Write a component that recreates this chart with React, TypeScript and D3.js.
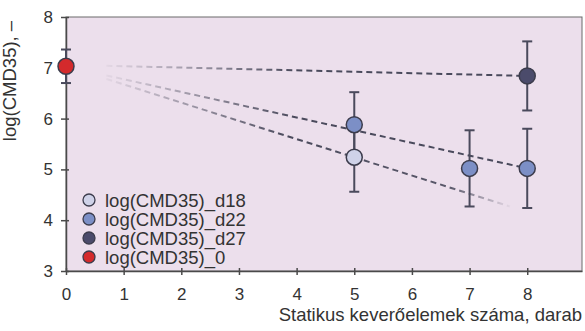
import React, { useEffect, useRef } from "react";
import * as d3 from "d3";

const width = 585;
const height = 331;

// axis values
const xTicks = [0, 1, 2, 3, 4, 5, 6, 7, 8];
const yTicks = [3, 4, 5, 6, 7, 8];
const xDomain = [0, 8.95];
const yDomain = [3, 8];

const xTitle = "Statikus keverőelemek száma, darab";
const yTitle = "log(CMD35), –";

// series (x = mixer count, y = log value, err = half error bar)
const seriesNames = ["log(CMD35)_d18", "log(CMD35)_d22", "log(CMD35)_d27", "log(CMD35)_0"];
const seriesColors = ["#cfd2e8", "#7c8fc6", "#4b4b6b", "#d42a2c"];
const d18Points = [{ x: 5, y: 5.24, err: 0.68 }];
const d22Points = [
  { x: 5, y: 5.88, err: 0.64 },
  { x: 7, y: 5.02, err: 0.75 },
  { x: 8, y: 5.02, err: 0.78 },
];
const d27Points = [{ x: 8, y: 6.84, err: 0.68 }];
const zeroPoints = [{ x: 0, y: 7.03, err: 0.33 }];

// dashed trend lines: start and end
const d18Trend = [{ x: 0.7, y: 6.78 }, { x: 7.7, y: 4.27 }];
const d22Trend = [{ x: 0.7, y: 6.85 }, { x: 8, y: 5.02 }];
const d27Trend = [{ x: 0.7, y: 7.04 }, { x: 8, y: 6.84 }];

const margin = { top: 17, right: 3, bottom: 60, left: 66 };

function App() {
  const ref = useRef<SVGSVGElement | null>(null);

  useEffect(() => {
    const svg = d3.select(ref.current);
    svg.selectAll("*").remove();

    const innerW = width - margin.left - margin.right;
    const innerH = height - margin.top - margin.bottom;

    const x = d3.scaleLinear().domain(xDomain).range([margin.left, margin.left + innerW]);
    const y = d3.scaleLinear().domain(yDomain).range([margin.top + innerH, margin.top]);

    const font = "Liberation Sans, Arial, sans-serif";
    const axisColor = "#4a4a4a";
    const markColor = "#4a4a5c";

    // plot background + frame
    svg.append("rect")
      .attr("x", x(xDomain[0]))
      .attr("y", y(yDomain[1]))
      .attr("width", x(xDomain[1]) - x(xDomain[0]))
      .attr("height", y(yDomain[0]) - y(yDomain[1]))
      .attr("fill", "#ecdfec")
      .attr("stroke", "#6a6a6a")
      .attr("stroke-width", 1);

    //////////////////// gradients for fading trend lines
    const defs = svg.append("defs");
    const trends = [
      { id: "g18", pts: d18Trend, fadeOut: true },
      { id: "g22", pts: d22Trend, fadeOut: false },
      { id: "g27", pts: d27Trend, fadeOut: false },
    ];
    trends.forEach((t) => {
      const g = defs.append("linearGradient")
        .attr("id", t.id)
        .attr("gradientUnits", "userSpaceOnUse")
        .attr("x1", x(t.pts[0].x)).attr("y1", 0)
        .attr("x2", x(t.pts[1].x)).attr("y2", 0);
      const stops = t.fadeOut
        ? [[0, 0.05], [0.45, 1], [0.85, 0.9], [1, 0.05]]
        : [[0, 0.05], [0.45, 1], [1, 1]];
      stops.forEach((s) => {
        g.append("stop").attr("offset", s[0]).attr("stop-color", markColor).attr("stop-opacity", s[1]);
      });
    });

    const line = d3.line<{ x: number; y: number }>().x((d) => x(d.x)).y((d) => y(d.y));
    trends.forEach((t) => {
      svg.append("path")
        .attr("d", line(t.pts))
        .attr("fill", "none")
        .attr("stroke", "url(#" + t.id + ")")
        .attr("stroke-width", 2)
        .attr("stroke-dasharray", "6,4");
    });

    //////////////////// axes
    const xAxis = svg.append("g")
      .attr("transform", "translate(0," + y(yDomain[0]) + ")")
      .call(d3.axisBottom(x).tickValues(xTicks).tickSize(4).tickSizeOuter(0).tickFormat(d3.format("d")));
    xAxis.select(".domain").attr("stroke", axisColor).attr("stroke-width", 1.5);
    xAxis.selectAll(".tick line").attr("stroke", axisColor).attr("stroke-width", 1.5).attr("y1", -3);
    xAxis.selectAll(".tick text")
      .attr("y", 17)
      .attr("dy", "0.71em")
      .style("font", "17px " + font)
      .attr("fill", "#333");

    const yAxis = svg.append("g")
      .attr("transform", "translate(" + x(xDomain[0]) + ",0)")
      .call(d3.axisLeft(y).tickValues(yTicks).tickSize(5).tickSizeOuter(0).tickFormat(d3.format("d")));
    yAxis.select(".domain").attr("stroke", axisColor).attr("stroke-width", 1.5);
    yAxis.selectAll(".tick line").attr("stroke", axisColor).attr("stroke-width", 1.5).attr("x1", 3);
    yAxis.selectAll(".tick text")
      .attr("x", -13)
      .style("font", "17px " + font)
      .attr("fill", "#333");

    svg.append("text")
      .attr("text-anchor", "end")
      .attr("x", width - 3)
      .attr("y", 321)
      .style("font", "18.5px " + font)
      .attr("fill", "#333")
      .text(xTitle);

    svg.append("text")
      .attr("text-anchor", "middle")
      .attr("transform", "translate(16,81) rotate(-90)")
      .style("font", "18.5px " + font)
      .attr("fill", "#333")
      .text(yTitle);

    //////////////////// error bars + points
    const allSeries = [d18Points, d22Points, d27Points, zeroPoints];
    allSeries.forEach((pts) => {
      pts.forEach((p) => {
        const g = svg.append("g").attr("stroke", markColor).attr("stroke-width", 2);
        g.append("line").attr("x1", x(p.x)).attr("x2", x(p.x)).attr("y1", y(p.y - p.err)).attr("y2", y(p.y + p.err));
        [p.y - p.err, p.y + p.err].forEach((v) => {
          g.append("line").attr("x1", x(p.x) - 5).attr("x2", x(p.x) + 5).attr("y1", y(v)).attr("y2", y(v));
        });
      });
    });
    allSeries.forEach((pts, i) => {
      svg.selectAll(".pt" + i)
        .data(pts)
        .enter()
        .append("circle")
        .attr("cx", (d) => x(d.x))
        .attr("cy", (d) => y(d.y))
        .attr("r", 8)
        .attr("fill", seriesColors[i])
        .attr("stroke", "#3c3c4c")
        .attr("stroke-width", 1.5);
    });

    //////////////////// legend
    const legend = svg.append("g").attr("transform", "translate(89,200)");
    seriesNames.forEach((name, i) => {
      const row = legend.append("g").attr("transform", "translate(0," + i * 19 + ")");
      row.append("circle")
        .attr("r", 6)
        .attr("fill", seriesColors[i])
        .attr("stroke", "#3c3c4c")
        .attr("stroke-width", 1.3);
      row.append("text")
        .attr("x", 16)
        .attr("dy", "0.36em")
        .style("font", "18.5px " + font)
        .attr("fill", "#333")
        .text(name);
    });
  }, []);

  return (
    <svg
      ref={ref}
      width={width}
      height={height}
      style={{ position: "absolute", left: 0, top: 0, background: "#fff" }}
    />
  );
}

export default App;
